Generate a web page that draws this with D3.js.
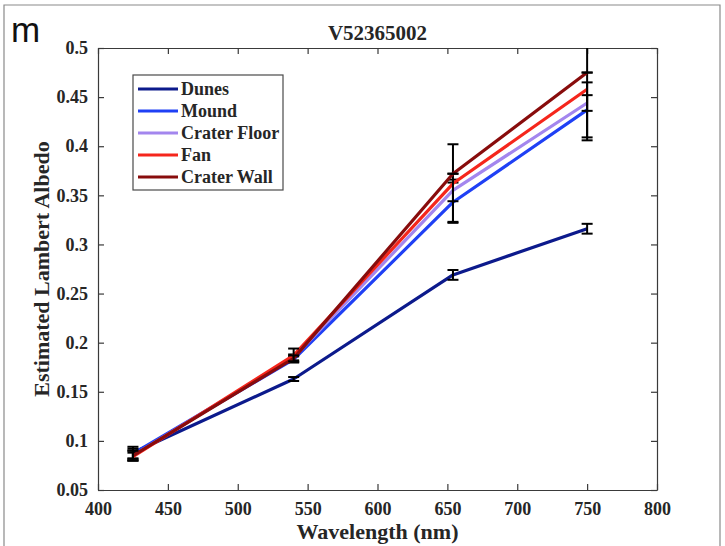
<!DOCTYPE html>
<html>
<head>
<meta charset="utf-8">
<script src="https://cdn.jsdelivr.net/npm/d3@7/dist/d3.min.js"></script>
<style>
  html, body { margin: 0; padding: 0; background: #fff; }
  svg { display: block; }
  text { font-family: "Liberation Serif", "Times New Roman", serif; font-weight: bold; fill: #262626; }
</style>
</head>
<body>
<svg id="chart" width="725" height="546"></svg>
<script>
// Filter wavelengths (nm) and per-region albedo spectra
const wavelengths = [425, 540, 654, 750];
const seriesNames = ["Dunes", "Mound", "Crater Floor", "Fan", "Crater Wall"];
const seriesColors = ["#0c1a8c", "#1f40f5", "#a386ee", "#f5261c", "#880c0c"];

const dunes       = [0.088, 0.163, 0.269, 0.316];
const mound       = [0.087, 0.183, 0.343, 0.437];
const craterFloor = [0.085, 0.185, 0.355, 0.444];
const fan         = [0.084, 0.187, 0.362, 0.458];
const craterWall  = [0.085, 0.184, 0.372, 0.475];

// One-sigma error half-widths
const dunesErr       = [0.006, 0.002, 0.005, 0.005];
const moundErr       = [0.005, 0.003, 0.020, 0.028];
const craterFloorErr = [0.005, 0.003, 0.011, 0.008];
const fanErr         = [0.004, 0.007, 0.040, 0.052];
const craterWallErr  = [0.005, 0.003, 0.000, 0.000];

const xTicks = [400, 450, 500, 550, 600, 650, 700, 750, 800];
const yTicks = [0.05, 0.1, 0.15, 0.2, 0.25, 0.3, 0.35, 0.4, 0.45, 0.5];

const values = [dunes, mound, craterFloor, fan, craterWall];
const errors = [dunesErr, moundErr, craterFloorErr, fanErr, craterWallErr];
const series = seriesNames.map((name, i) => ({
  name, color: seriesColors[i],
  points: wavelengths.map((w, j) => ({ w, v: values[i][j], e: errors[i][j] }))
}));

const svg = d3.select("#chart");
const plot = { left: 98, right: 657, top: 48, bottom: 490 };

const x = d3.scaleLinear().domain([400, 800]).range([plot.left, plot.right]);
const y = d3.scaleLinear().domain([0.05, 0.5]).range([plot.bottom, plot.top]);

// Outer figure frame
svg.append("path")
  .attr("d", `M4,546 V5 H720 V546`)
  .attr("fill", "none").attr("stroke", "#8a8a8a").attr("stroke-width", 1.2);

// Panel letter
svg.append("text").attr("x", 11).attr("y", 42)
  .style("font-family", "'Liberation Sans', Arial, sans-serif")
  .style("font-weight", "normal").style("fill", "#111")
  .style("font-size", "35px").text("m");

// Title
svg.append("text").attr("x", (plot.left + plot.right) / 2).attr("y", 40)
  .attr("text-anchor", "middle").style("font-size", "21px").text("V52365002");

// Clip region for data marks
svg.append("defs").append("clipPath").attr("id", "plotClip")
  .append("rect").attr("x", plot.left).attr("y", plot.top)
  .attr("width", plot.right - plot.left).attr("height", plot.bottom - plot.top);

const axisColor = "#3a3a3a";
const tickLen = 6;

function styleAxis(g) {
  g.select(".domain").attr("stroke", axisColor).attr("stroke-width", 1.2);
  g.selectAll(".tick line").attr("stroke", axisColor).attr("stroke-width", 1.2);
  g.selectAll(".tick text").style("font-size", "18px").style("fill", "#262626");
}

// Bottom axis with inward ticks
svg.append("g").attr("transform", `translate(0,${plot.bottom})`)
  .call(d3.axisBottom(x).tickValues(xTicks).tickFormat(d3.format("d"))
    .tickSizeInner(-tickLen).tickSizeOuter(0).tickPadding(12))
  .call(styleAxis);

// Top axis (mirrored ticks, no labels)
svg.append("g").attr("transform", `translate(0,${plot.top})`)
  .call(d3.axisTop(x).tickValues(xTicks).tickFormat("")
    .tickSizeInner(-tickLen).tickSizeOuter(0))
  .call(styleAxis);

// Left axis
svg.append("g").attr("transform", `translate(${plot.left},0)`)
  .call(d3.axisLeft(y).tickValues(yTicks).tickFormat(d => d3.format("")(+d.toFixed(2)))
    .tickSizeInner(-tickLen).tickSizeOuter(0).tickPadding(10))
  .call(styleAxis);

// Right axis (mirrored ticks, no labels)
svg.append("g").attr("transform", `translate(${plot.right},0)`)
  .call(d3.axisRight(y).tickValues(yTicks).tickFormat("")
    .tickSizeInner(-tickLen).tickSizeOuter(0))
  .call(styleAxis);

// Axis titles
svg.append("text").attr("x", (plot.left + plot.right) / 2).attr("y", 539)
  .attr("text-anchor", "middle").style("font-size", "22px").text("Wavelength (nm)");
svg.append("text")
  .attr("transform", `translate(49,${(plot.top + plot.bottom) / 2}) rotate(-90)`)
  .attr("text-anchor", "middle").style("font-size", "22px").text("Estimated Lambert Albedo");

// Data: each series line followed by its error bars
const marks = svg.append("g").attr("clip-path", "url(#plotClip)");
const line = d3.line().x(d => x(d.w)).y(d => y(d.v));
const capHalf = 5.5;

series.forEach(s => {
  marks.append("path").datum(s.points)
    .attr("d", line).attr("fill", "none")
    .attr("stroke", s.color).attr("stroke-width", 3.2)
    .attr("stroke-linejoin", "round");

  const eb = marks.append("g").attr("stroke", "#000").attr("stroke-width", 2);
  s.points.forEach(p => {
    const cx = x(p.w), y0 = y(p.v - p.e), y1 = y(p.v + p.e);
    eb.append("line").attr("x1", cx).attr("x2", cx).attr("y1", y0).attr("y2", y1);
    eb.append("line").attr("x1", cx - capHalf).attr("x2", cx + capHalf).attr("y1", y0).attr("y2", y0);
    eb.append("line").attr("x1", cx - capHalf).attr("x2", cx + capHalf).attr("y1", y1).attr("y2", y1);
  });
});

// Legend
const legend = svg.append("g");
legend.append("rect").attr("x", 133).attr("y", 75).attr("width", 150).attr("height", 115)
  .attr("fill", "#fff").attr("stroke", "#4a4a4a").attr("stroke-width", 1.2);
series.forEach((s, i) => {
  const ly = 89 + i * 22;
  legend.append("line").attr("x1", 138).attr("x2", 178).attr("y1", ly).attr("y2", ly)
    .attr("stroke", s.color).attr("stroke-width", 3.2);
  legend.append("text").attr("x", 181).attr("y", ly + 6)
    .style("font-size", "18px").text(s.name);
});
</script>
</body>
</html>
